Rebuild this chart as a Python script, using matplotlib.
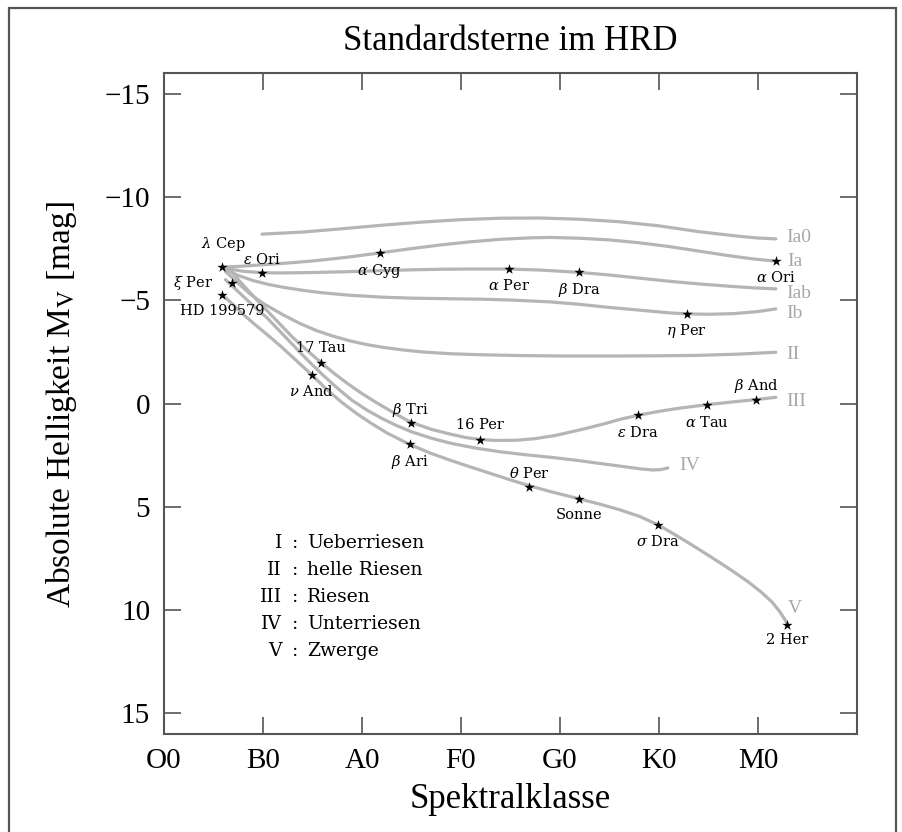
import matplotlib
matplotlib.use("Agg")
import matplotlib.pyplot as plt
from matplotlib.patches import Rectangle

# Leuchtkraftklassen (Spektralklasse als Zahl: O0=0, B0=1, ... M0=6)
ia0_x = [0.99, 1.4, 1.8, 2.2, 2.6, 3.0, 3.4, 3.8, 4.2, 4.6, 5.0, 5.4, 5.8, 6.0, 6.18]
ia0_y = [-8.2, -8.3, -8.46, -8.63, -8.78, -8.9, -8.97, -8.98, -8.92, -8.8, -8.6, -8.32, -8.1, -8.01, -7.97]

ia_x = [0.59, 0.8, 1.0, 1.25, 1.5, 1.85, 2.18, 2.5, 2.8, 3.1, 3.4, 3.7, 3.9, 4.2, 4.5,
        4.8, 5.1, 5.4, 5.7, 5.95, 6.18]
ia_y = [-6.6, -6.65, -6.72, -6.8, -6.9, -7.08, -7.29, -7.5, -7.68, -7.83, -7.95, -8.02, -8.04, -8.0, -7.92,
        -7.78, -7.6, -7.38, -7.16, -7.0, -6.89]

iab_x = [0.59, 0.7, 0.8, 0.99, 1.2, 1.5, 1.85, 2.18, 2.5, 2.8, 3.1, 3.48, 3.8, 4.19, 4.5,
         4.8, 5.1, 5.4, 5.7, 5.95, 6.18]
iab_y = [-6.6, -6.48, -6.4, -6.33, -6.32, -6.34, -6.38, -6.43, -6.47, -6.5, -6.51, -6.51, -6.46, -6.35, -6.22,
         -6.07, -5.92, -5.79, -5.68, -5.6, -5.55]

ib_x = [0.62, 0.75, 0.9, 1.05, 1.2, 1.4, 1.6, 1.88, 2.2, 2.5, 2.9, 3.2, 3.5, 3.9, 4.2,
        4.5, 4.85, 5.1, 5.28, 5.5, 5.75, 6.0, 6.18]
ib_y = [-6.5, -6.2, -5.95, -5.77, -5.63, -5.48, -5.36, -5.24, -5.15, -5.1, -5.07, -5.05, -5.01, -4.92, -4.8,
        -4.65, -4.5, -4.39, -4.34, -4.32, -4.35, -4.45, -4.58]

ii_x = [0.62, 0.72, 0.87, 1.0, 1.2, 1.37, 1.54, 1.7, 1.88, 2.05, 2.21, 2.4, 2.6, 2.89, 3.2,
        3.6, 4.0, 4.6, 5.0, 5.4, 5.8, 6.18]
ii_y = [-6.4, -5.95, -5.3, -4.85, -4.3, -3.88, -3.53, -3.27, -3.03, -2.85, -2.72, -2.6, -2.5, -2.41, -2.36,
        -2.32, -2.3, -2.3, -2.31, -2.33, -2.39, -2.48]

iii_x = [0.67, 0.76, 0.85, 0.95, 1.04, 1.17, 1.3, 1.45, 1.59, 1.72, 1.85, 2.0, 2.15, 2.32, 2.49,
         2.7, 2.89, 3.05, 3.19, 3.35, 3.56, 3.75, 3.95, 4.2, 4.45, 4.62, 4.79, 5.0, 5.2, 5.48,
         5.75, 5.98, 6.18]
iii_y = [-6.43, -5.95, -5.47, -4.95, -4.5, -3.85, -3.2, -2.55, -1.97, -1.45, -0.98, -0.48, -0.03, 0.45, 0.9,
         1.25, 1.48, 1.65, 1.74, 1.79, 1.78, 1.7, 1.55, 1.28, 0.98, 0.75, 0.57, 0.38, 0.23, 0.06,
         -0.08, -0.19, -0.3]

iv_x = [0.62, 0.72, 0.82, 0.93, 1.04, 1.17, 1.3, 1.45, 1.6, 1.75, 1.9, 2.05, 2.2, 2.35, 2.5,
        2.7, 2.9, 3.15, 3.4, 3.65, 3.9, 4.15, 4.4, 4.65, 4.82, 4.94, 5.02, 5.09]
iv_y = [-6.0, -5.55, -5.1, -4.6, -4.15, -3.5, -2.85, -2.1, -1.4, -0.75, -0.15, 0.32, 0.72, 1.07, 1.37,
        1.68, 1.93, 2.16, 2.34, 2.48, 2.6, 2.74, 2.9, 3.06, 3.17, 3.22, 3.2, 3.12]

v_x = [0.59, 0.7, 0.8, 0.9, 1.0, 1.1, 1.2, 1.35, 1.49, 1.65, 1.8, 1.95, 2.1, 2.25, 2.48,
       2.7, 2.9, 3.1, 3.3, 3.5, 3.69, 3.9, 4.19, 4.4, 4.6, 4.8, 4.99, 5.2, 5.4, 5.6,
       5.74, 5.9, 6.03, 6.14, 6.22, 6.29]
v_y = [-5.26, -4.78, -4.32, -3.9, -3.5, -3.1, -2.68, -2.02, -1.4, -0.65, -0.04, 0.5, 0.98, 1.42, 1.98,
       2.42, 2.76, 3.08, 3.39, 3.7, 3.98, 4.26, 4.61, 4.87, 5.14, 5.46, 5.87, 6.46, 7.05, 7.66,
       8.1, 8.63, 9.12, 9.6, 10.08, 10.6]

curves = [(ia0_x, ia0_y), (ia_x, ia_y), (iab_x, iab_y), (ib_x, ib_y),
          (ii_x, ii_y), (iii_x, iii_y), (iv_x, iv_y), (v_x, v_y)]

class_names = ["Ia0", "Ia", "Iab", "Ib", "II", "III", "IV", "V"]
class_label_x = [6.29, 6.30, 6.29, 6.29, 6.29, 6.29, 5.20, 6.30]
class_label_y = [-8.02, -6.88, -5.31, -4.34, -2.37, -0.1, 3.0, 9.93]

# Standardsterne
star_names = [r"$\lambda$ Cep", r"$\epsilon$ Ori", r"$\alpha$ Cyg", r"$\xi$ Per", "HD 199579",
              "17 Tau", r"$\nu$ And", r"$\beta$ Tri", "16 Per", r"$\epsilon$ Dra",
              r"$\alpha$ Tau", r"$\beta$ And", r"$\beta$ Ari", r"$\theta$ Per", "Sonne",
              r"$\sigma$ Dra", "2 Her", r"$\alpha$ Per", r"$\beta$ Dra", r"$\eta$ Per",
              r"$\alpha$ Ori"]
star_x = [0.59, 0.99, 2.18, 0.69, 0.59, 1.59, 1.49, 2.49, 3.19, 4.79, 5.48, 5.98,
          2.48, 3.69, 4.19, 4.99, 6.29, 3.48, 4.19, 5.28, 6.18]
star_y = [-6.6, -6.32, -7.29, -5.84, -5.26, -1.97, -1.40, 0.95, 1.76, 0.55, 0.05, -0.19,
          1.98, 4.05, 4.61, 5.87, 10.7, -6.51, -6.35, -4.34, -6.89]
label_x = [0.595, 0.986, 2.18, 0.29, 0.592, 1.59, 1.49, 2.49, 3.19, 4.79, 5.48, 5.98,
           2.48, 3.69, 4.19, 4.99, 6.29, 3.48, 4.19, 5.28, 6.18]
label_y = [-7.74, -6.95, -6.43, -5.84, -4.5, -2.68, -0.58, 0.30, 1.06, 1.39, 0.90, -0.87,
           2.84, 3.37, 5.42, 6.68, 11.47, -5.71, -5.5, -3.5, -6.08]

spec_ticks = [0, 1, 2, 3, 4, 5, 6]
spec_labels = ["O0", "B0", "A0", "F0", "G0", "K0", "M0"]
mag_ticks = [-15, -10, -5, 0, 5, 10, 15]

legend_roman = ["I", "II", "III", "IV", "V"]
legend_text = ["Ueberriesen", "helle Riesen", "Riesen", "Unterriesen", "Zwerge"]

W, H = 903, 832
fig = plt.figure(figsize=(W / 100, H / 100), dpi=100)
ax = fig.add_axes([164 / W, 1 - 734 / H, (857 - 164) / W, (734 - 73) / H])

curve_color = "#b5b5b5"
for cx, cy in curves:
    ax.plot(cx, cy, color=curve_color, lw=2.3, solid_joinstyle="round",
            solid_capstyle="round", zorder=2)

ax.scatter(star_x, star_y, marker="*", s=60, color="black", zorder=3, linewidths=0)

for name, lx, ly in zip(star_names, label_x, label_y):
    ax.text(lx, ly, name, ha="center", va="center", fontsize=10.5,
            family="DejaVu Serif", math_fontfamily="dejavuserif", zorder=4)

for name, lx, ly in zip(class_names, class_label_x, class_label_y):
    ax.text(lx, ly, name, ha="left", va="center", fontsize=14,
            family="Liberation Serif", color="#a8a8a8")

ax.set_xlim(0, 7)
ax.set_ylim(16, -16)
ax.set_xticks(spec_ticks)
ax.set_xticklabels(spec_labels)
ax.set_yticks(mag_ticks)
ax.set_yticklabels([str(t).replace("-", "\u2212") for t in mag_ticks])
ax.tick_params(direction="in", length=12, width=1.2, color="#555555",
               top=True, right=True, labelsize=21, pad=10)
for lab in ax.get_xticklabels() + ax.get_yticklabels():
    lab.set_family("Liberation Serif")
for sp in ax.spines.values():
    sp.set_color("#555555")
    sp.set_linewidth(1.5)

# Legende der Leuchtkraftklassen
row_y = [543, 570, 597, 624, 651]
for rom, txt, ry in zip(legend_roman, legend_text, row_y):
    fig.text(282 / W, 1 - ry / H, rom, ha="right", va="center", fontsize=13.5, family="DejaVu Serif")
    fig.text(295 / W, 1 - ry / H, ":", ha="center", va="center", fontsize=13.5, family="DejaVu Serif")
    fig.text(307 / W, 1 - ry / H, txt, ha="left", va="center", fontsize=13.5, family="DejaVu Serif")

fig.text(510 / W, 1 - 42 / H, "Standardsterne im HRD", ha="center", va="center",
         fontsize=25, family="Liberation Serif")
fig.text(510 / W, 1 - 800 / H, "Spektralklasse", ha="center", va="center",
         fontsize=25, family="Liberation Serif")
fig.text(62 / W, 1 - 405 / H, r"Absolute Helligkeit M$_{\rm V}$ [mag]", ha="center", va="center",
         rotation=90, fontsize=24, family="Liberation Serif", math_fontfamily="stix")

# Rahmen um die ganze Abbildung (unten abgeschnitten)
fig.patches.append(Rectangle((9 / W, -0.1), 887 / W, 1.1 - 8 / H, transform=fig.transFigure,
                             fill=False, edgecolor="#555555", linewidth=1.6))

fig.savefig("out.png", dpi=100)
